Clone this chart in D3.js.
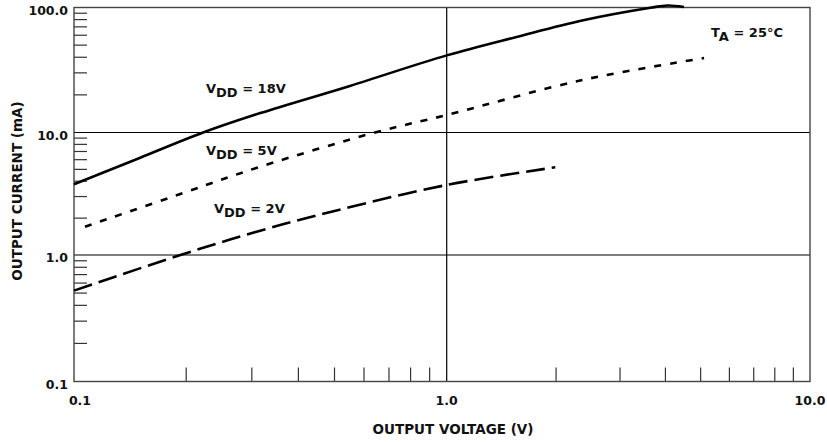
<!DOCTYPE html>
<html>
<head>
<meta charset="utf-8">
<script src="https://cdn.jsdelivr.net/npm/d3@7"></script>
<style>
  body { margin: 0; background: #fff; }
  text { font-family: "DejaVu Sans", sans-serif; font-weight: bold; fill: #111; }
</style>
</head>
<body>
<div id="chart"></div>
<script>
// curves (volts, mA)
var vdd18V = [0.1, 0.15, 0.222, 0.316, 0.55, 1.0, 1.558, 2.377, 3.64, 4.05, 4.5];
var vdd18I = [3.78, 6.2, 10, 14.3, 23.6, 41.4, 58.2, 79.1, 99.5, 103.8, 101];
var vdd5V = [0.107, 0.2, 0.316, 0.642, 1.0, 2.377, 5.11];
var vdd5I = [1.70, 3.27, 5.26, 10, 13.8, 26.4, 39.4];
var vdd2V = [0.1, 0.193, 0.309, 0.5, 1.0, 1.99];
var vdd2I = [0.523, 1.0, 1.55, 2.29, 3.73, 5.2];

var xMajor = [0.1, 1, 10], xMajorLabels = ["0.1", "1.0", "10.0"];
var yMajor = [0.1, 1, 10, 100], yMajorLabels = ["0.1", "1.0", "10.0", "100.0"];
var minorSteps = [2, 3, 4, 5, 6, 7, 8, 9];

var W = 827, H = 442;
var svg = d3.select("#chart").append("svg").attr("width", W).attr("height", H);

// scanned chart: decades are not exactly equal, so piecewise log scales
var x = d3.scaleLog().domain([0.1, 1, 10]).range([74, 446.7, 810]);
var y = d3.scaleLog().domain([0.1, 1, 10, 100]).range([381.5, 255, 132.5, 7.5]);

var x0 = x(0.1), x1 = x(10), y0 = y(0.1), y1 = y(100);

function minors(decades){
  var out = [];
  for (var d of decades) for (var s of minorSteps) out.push(d * s);
  return out;
}

// minor ticks, y on the left going inward, x on the bottom going up
svg.append("g").selectAll("line").data(minors([0.1, 1, 10])).enter().append("line")
  .attr("x1", x0).attr("x2", x0 + 13)
  .attr("y1", function(d){ return y(d); }).attr("y2", function(d){ return y(d); })
  .attr("stroke", "#333").attr("stroke-width", 1.2);
svg.append("g").selectAll("line").data(minors([0.1, 1])).enter().append("line")
  .attr("y1", y0).attr("y2", y0 - 14)
  .attr("x1", function(d){ return x(d); }).attr("x2", function(d){ return x(d); })
  .attr("stroke", "#333").attr("stroke-width", 1.2);

// grid lines
svg.append("g").selectAll("line").data([1, 10]).enter().append("line")
  .attr("x1", x0).attr("x2", x1)
  .attr("y1", function(d){ return y(d); }).attr("y2", function(d){ return y(d); })
  .attr("stroke", "#000").attr("stroke-width", 1.2);
svg.append("line")
  .attr("x1", x(1)).attr("x2", x(1)).attr("y1", y1).attr("y2", y0)
  .attr("stroke", "#000").attr("stroke-width", 1.2);

// frame
svg.append("rect")
  .attr("x", x0).attr("y", y1).attr("width", x1 - x0).attr("height", y0 - y1)
  .attr("fill", "none").attr("stroke", "#444").attr("stroke-width", 1.4);

// tick labels
svg.append("g").selectAll("text").data(xMajor).enter().append("text")
  .attr("x", function(d){ return x(d) + (d == 0.1 ? 6 : 0); }).attr("y", y0 + 23)
  .attr("text-anchor", "middle").attr("font-size", 12.5)
  .text(function(d, i){ return xMajorLabels[i]; });
svg.append("g").selectAll("text").data(yMajor).enter().append("text")
  .attr("x", x0 - 6).attr("y", function(d){ return y(d) + 7; })
  .attr("text-anchor", "end").attr("font-size", 12.5)
  .text(function(d, i){ return yMajorLabels[i]; });

// axis titles
svg.append("text")
  .attr("x", 453).attr("y", 434).attr("text-anchor", "middle").attr("font-size", 13.5)
  .text("OUTPUT VOLTAGE (V)");
svg.append("text")
  .attr("transform", "translate(22,191) rotate(-90)")
  .attr("text-anchor", "middle").attr("font-size", 13.5)
  .text("OUTPUT CURRENT (mA)");

// curves
var line = d3.line()
  .x(function(d){ return x(d[0]); })
  .y(function(d){ return y(d[1]); })
  .curve(d3.curveCatmullRom);

var curves = [
  {v: vdd18V, i: vdd18I, dash: null},
  {v: vdd5V, i: vdd5I, dash: "7,9"},
  {v: vdd2V, i: vdd2I, dash: "19,7"}
];
for (var c of curves){
  svg.append("path")
    .datum(d3.zip(c.v, c.i))
    .attr("d", line)
    .attr("fill", "none")
    .attr("stroke", "#000")
    .attr("stroke-width", 2.6)
    .attr("stroke-dasharray", c.dash);
}

// curve labels with subscripts
function subLabel(px, py, main, sub, rest){
  var t = svg.append("text").attr("x", px).attr("y", py).attr("font-size", 13);
  t.append("tspan").text(main);
  t.append("tspan").attr("dy", 3.5).text(sub);
  t.append("tspan").attr("dy", -3.5).text(rest);
}
subLabel(206, 93, "V", "DD", " = 18V");
subLabel(206, 155, "V", "DD", " = 5V");
subLabel(214, 213, "V", "DD", " = 2V");
subLabel(711, 37, "T", "A", " = 25\u00B0C");
</script>
</body>
</html>
